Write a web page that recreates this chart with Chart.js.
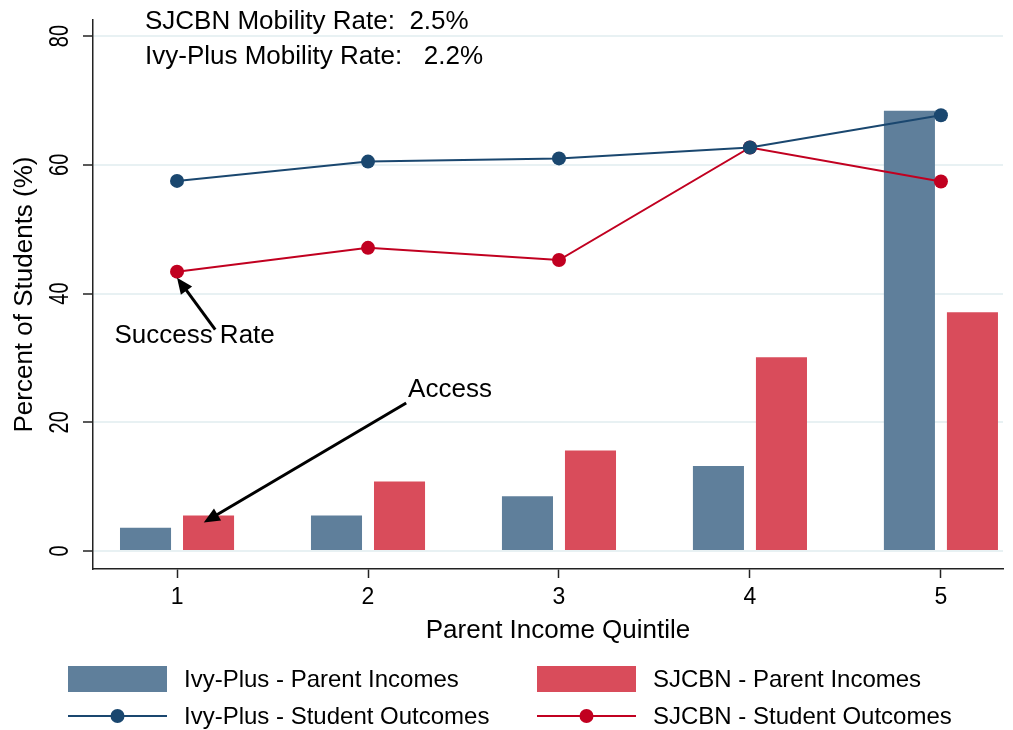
<!DOCTYPE html>
<html>
<head>
<meta charset="utf-8">
<script src="https://cdn.jsdelivr.net/npm/chart.js@4.4.0/dist/chart.umd.min.js"></script>
<style>
  html, body { margin: 0; padding: 0; background: #fff; }
  #wrap { width: 1013px; height: 730px; }
</style>
</head>
<body>
<div id="wrap"><canvas id="chart" width="1013" height="730"></canvas></div>
<script>
// data
const quintiles = [1, 2, 3, 4, 5];
const ivyIncomes = [3.6, 5.5, 8.5, 13.2, 68.4];
const sjcbnIncomes = [5.5, 10.8, 15.6, 30.1, 37.1];
const ivyOutcomes = [57.5, 60.5, 61.0, 62.7, 67.7];
const sjcbnOutcomes = [43.4, 47.1, 45.2, 62.7, 57.4];
const yTicks = [0, 20, 40, 60, 80];
const mobilityNotes = ['SJCBN Mobility Rate:  2.5%', 'Ivy-Plus Mobility Rate:   2.2%'];

const FONT = '"Liberation Sans", Arial, sans-serif';
const IVY_BAR = '#5f7f9b';
const SJ_BAR = '#d94c5b';
const IVY_LINE = '#1a476f';
const SJ_LINE = '#c10020';
const AXIS = '#222';

const pts = arr => quintiles.map((q, i) => ({ x: q, y: arr[i] }));

function arrow(ctx, x1, y1, x2, y2) {
  const a = Math.atan2(y2 - y1, x2 - x1);
  const head = 16, w = 7;
  ctx.save();
  ctx.strokeStyle = '#000';
  ctx.fillStyle = '#000';
  ctx.lineWidth = 3;
  ctx.beginPath();
  ctx.moveTo(x1, y1);
  ctx.lineTo(x2 - Math.cos(a) * head * 0.8, y2 - Math.sin(a) * head * 0.8);
  ctx.stroke();
  ctx.beginPath();
  ctx.moveTo(x2, y2);
  ctx.lineTo(x2 - Math.cos(a) * head + Math.sin(a) * w, y2 - Math.sin(a) * head - Math.cos(a) * w);
  ctx.lineTo(x2 - Math.cos(a) * head - Math.sin(a) * w, y2 - Math.sin(a) * head + Math.cos(a) * w);
  ctx.closePath();
  ctx.fill();
  ctx.restore();
}

const extras = {
  id: 'extras',
  beforeDraw(chart) {
    const ctx = chart.ctx;
    ctx.save();
    ctx.fillStyle = '#fff';
    ctx.fillRect(0, 0, chart.width, chart.height);
    ctx.restore();
  },
  afterDraw(chart) {
    const ctx = chart.ctx;
    const x = chart.scales.x, y = chart.scales.y;
    const area = chart.chartArea;
    ctx.save();
    ctx.fillStyle = '#000';
    ctx.textBaseline = 'middle';

    // y tick labels, upright glyphs run along the axis
    ctx.font = '20px ' + FONT;
    ctx.textAlign = 'center';
    yTicks.forEach(v => {
      ctx.save();
      ctx.translate(61, y.getPixelForValue(v));
      ctx.scale(1.35, 1);
      ctx.rotate(-Math.PI / 2);
      ctx.fillText(String(v), 0, 0);
      ctx.restore();
    });

    ctx.font = '26px ' + FONT;
    // notes at top
    ctx.textAlign = 'left';
    ctx.fillText(mobilityNotes[0], 145, 22);
    ctx.fillText(mobilityNotes[1], 145, 57);

    // y title
    ctx.save();
    ctx.translate(25, (area.top + area.bottom) / 2);
    ctx.rotate(-Math.PI / 2);
    ctx.textAlign = 'center';
    ctx.fillText('Percent of Students (%)', 0, 0);
    ctx.restore();

    // x title
    ctx.textAlign = 'center';
    ctx.fillText('Parent Income Quintile', (area.left + area.right) / 2 + 10, 631);

    // annotations
    ctx.textAlign = 'left';
    ctx.fillText('Success Rate', x.getPixelForValue(0.672), y.getPixelForValue(33.4));
    arrow(ctx, x.getPixelForValue(1.2), y.getPixelForValue(34.4),
      x.getPixelForValue(1.0), y.getPixelForValue(sjcbnOutcomes[0]) + 6);
    ctx.fillText('Access', x.getPixelForValue(2.21), y.getPixelForValue(25.0));
    arrow(ctx, x.getPixelForValue(2.2), y.getPixelForValue(23.0),
      x.getPixelForValue(1.14), y.getPixelForValue(sjcbnIncomes[0]) + 7);

    // legend
    ctx.font = '24px ' + FONT;
    const cols = [68, 537];
    const items = [
      { bar: IVY_BAR, line: IVY_LINE, a: 'Ivy-Plus - Parent Incomes', b: 'Ivy-Plus - Student Outcomes' },
      { bar: SJ_BAR, line: SJ_LINE, a: 'SJCBN - Parent Incomes', b: 'SJCBN - Student Outcomes' }
    ];
    items.forEach((it, i) => {
      const lx = cols[i];
      ctx.fillStyle = it.bar;
      ctx.fillRect(lx, 666, 99, 26);
      ctx.strokeStyle = it.line;
      ctx.lineWidth = 2;
      ctx.beginPath();
      ctx.moveTo(lx, 716);
      ctx.lineTo(lx + 99, 716);
      ctx.stroke();
      ctx.fillStyle = it.line;
      ctx.beginPath();
      ctx.arc(lx + 49.5, 716, 7, 0, Math.PI * 2);
      ctx.fill();
      ctx.fillStyle = '#000';
      ctx.fillText(it.a, lx + 116, 680);
      ctx.fillText(it.b, lx + 116, 717);
    });
    ctx.restore();
  }
};

new Chart(document.getElementById('chart'), {
  type: 'bar',
  data: {
    datasets: [
      { type: 'bar', label: 'Ivy-Plus - Parent Incomes', data: pts(ivyIncomes), backgroundColor: IVY_BAR, order: 2 },
      { type: 'bar', label: 'SJCBN - Parent Incomes', data: pts(sjcbnIncomes), backgroundColor: SJ_BAR, order: 2 },
      { type: 'line', label: 'Ivy-Plus - Student Outcomes', data: pts(ivyOutcomes), borderColor: IVY_LINE, backgroundColor: IVY_LINE,
        borderWidth: 2, pointRadius: 7, pointBorderWidth: 0, tension: 0, order: 1 },
      { type: 'line', label: 'SJCBN - Student Outcomes', data: pts(sjcbnOutcomes), borderColor: SJ_LINE, backgroundColor: SJ_LINE,
        borderWidth: 2, pointRadius: 7, pointBorderWidth: 0, tension: 0, order: 1 }
    ]
  },
  options: {
    responsive: false,
    animation: false,
    categoryPercentage: 0.66,
    barPercentage: 0.81,
    layout: { padding: { left: 0, right: 10, top: 20, bottom: 0 } },
    plugins: { legend: { display: false }, tooltip: { enabled: false } },
    scales: {
      x: {
        type: 'linear',
        offset: false,
        min: 0.56,
        max: 5.325,
        afterBuildTicks: s => { s.ticks = quintiles.map(v => ({ value: v })); },
        afterFit: s => { s.height = 161; },
        grid: { offset: false, drawOnChartArea: false, drawTicks: true, tickLength: 9, tickColor: AXIS, tickWidth: 1.5 },
        border: { display: true, color: AXIS, width: 1.5 },
        ticks: { color: '#000', font: { family: FONT, size: 23 }, padding: 6, maxRotation: 0 }
      },
      y: {
        min: -2.8,
        max: 82.5,
        afterBuildTicks: s => { s.ticks = yTicks.map(v => ({ value: v })); },
        afterFit: s => { s.width = 93; },
        grid: { color: '#e8f1f3', lineWidth: 2, drawTicks: true, tickLength: 10, tickColor: AXIS, tickWidth: 1.5 },
        border: { display: true, color: AXIS, width: 1.5 },
        ticks: { display: false }
      }
    }
  },
  plugins: [extras]
});
</script>
</body>
</html>
